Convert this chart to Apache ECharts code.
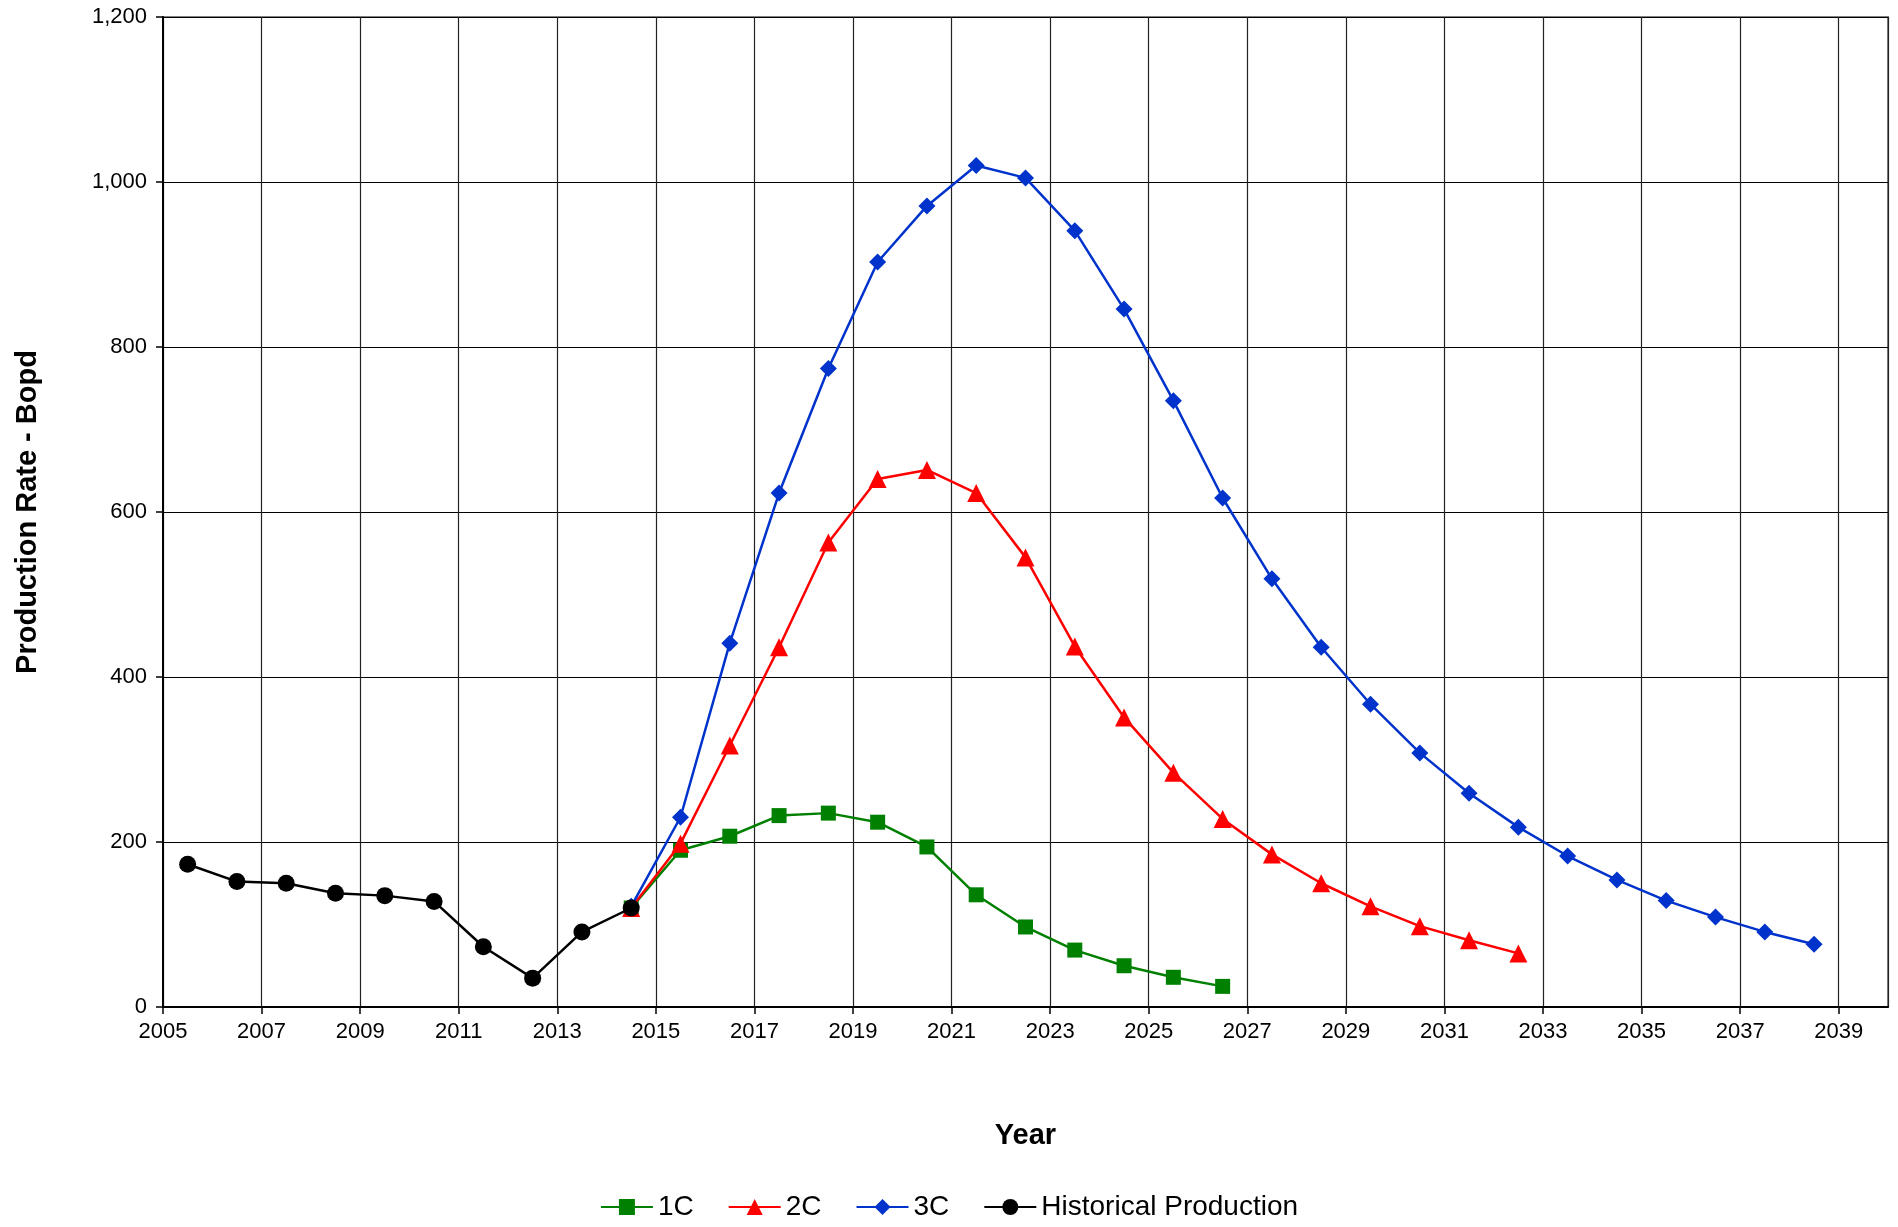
<!DOCTYPE html>
<html>
<head>
<meta charset="utf-8">
<script src="https://cdn.jsdelivr.net/npm/echarts@6/dist/echarts.min.js"></script>
<style>
html,body{margin:0;padding:0;background:#fff;}
#chart{width:1898px;height:1227px;}
</style>
</head>
<body>
<div id="chart"></div>
<script>
// Data (x = mid-year position, y = production rate Bopd)
const histYears = [2005.5, 2006.5, 2007.5, 2008.5, 2009.5, 2010.5, 2011.5, 2012.5, 2013.5, 2014.5];
const histValues = [173, 152, 150, 138, 135, 128, 73, 35, 91, 120];

const c1Years = [2014.5, 2015.5, 2016.5, 2017.5, 2018.5, 2019.5, 2020.5, 2021.5, 2022.5, 2023.5, 2024.5, 2025.5, 2026.5];
const c1Values = [120, 190, 207, 232, 235, 224, 194, 136, 97, 69, 50, 36, 25];

const c2Years = [2014.5, 2015.5, 2016.5, 2017.5, 2018.5, 2019.5, 2020.5, 2021.5, 2022.5, 2023.5, 2024.5, 2025.5, 2026.5, 2027.5, 2028.5, 2029.5, 2030.5, 2031.5, 2032.5];
const c2Values = [120, 198, 317, 436, 563, 640, 651, 623, 545, 437, 351, 284, 228, 185, 150, 122, 98, 81, 65];

const c3Years = [2014.5, 2015.5, 2016.5, 2017.5, 2018.5, 2019.5, 2020.5, 2021.5, 2022.5, 2023.5, 2024.5, 2025.5, 2026.5, 2027.5, 2028.5, 2029.5, 2030.5, 2031.5, 2032.5, 2033.5, 2034.5, 2035.5, 2036.5, 2037.5, 2038.5];
const c3Values = [122, 230, 441, 623, 774, 903, 971, 1020, 1005, 941, 846, 735, 617, 519, 436, 367, 308, 259, 218, 183, 154, 129, 109, 91, 76];

const seriesNames = ['1C', '2C', '3C', 'Historical Production'];

function pairs(xs, ys) { return xs.map((x, i) => [x, ys[i]]); }

const chart = echarts.init(document.getElementById('chart'), null, {renderer: 'canvas'});
const FONT = 'Liberation Sans, Arial, sans-serif';

function lineSeries(name, xs, ys, color, symbol, size, z) {
  return {
    name: name,
    type: 'line',
    data: pairs(xs, ys),
    symbol: symbol,
    symbolSize: size,
    showAllSymbol: true,
    z: z,
    lineStyle: {color: color, width: 2.5},
    itemStyle: {color: color},
    emphasis: {disabled: true},
    animation: false
  };
}

chart.setOption({
  animation: false,
  backgroundColor: '#fff',
  grid: {left: 163, right: 10, top: 17, bottom: 220, containLabel: false,
         outerBoundsMode: 'none',
         show: true, borderColor: '#808080', borderWidth: 2},
  legend: {
    data: seriesNames,
    bottom: 1,
    left: 'center',
    itemWidth: 52,
    itemHeight: 20,
    itemGap: 34,
    textStyle: {fontFamily: FONT, fontSize: 28, color: '#000'}
  },
  xAxis: {
    type: 'value',
    min: 2005,
    max: 2040,
    interval: 2,
    name: 'Year',
    nameLocation: 'middle',
    nameGap: 114,
    nameTextStyle: {fontFamily: FONT, fontSize: 29, fontWeight: 'bold', color: '#000'},
    axisLine: {show: true, lineStyle: {color: '#000', width: 2}},
    axisTick: {show: true, length: 7, lineStyle: {color: '#000', width: 1.5}},
    axisLabel: {
      fontFamily: FONT, fontSize: 22, color: '#000', margin: 14,
      showMaxLabel: false,
      formatter: function (v) { return v < 2040 ? String(Math.round(v)) : ''; }
    },
    splitLine: {show: true, lineStyle: {color: '#222', width: 1.2}}
  },
  yAxis: {
    type: 'value',
    min: 0,
    max: 1200,
    interval: 200,
    name: 'Production Rate - Bopd',
    nameLocation: 'middle',
    nameGap: 121,
    nameTextStyle: {fontFamily: FONT, fontSize: 29, fontWeight: 'bold', color: '#000'},
    axisLine: {show: true, lineStyle: {color: '#000', width: 2}},
    axisTick: {show: true, length: 7, lineStyle: {color: '#000', width: 1.5}},
    axisLabel: {
      fontFamily: FONT, fontSize: 22, color: '#000', margin: 16,
      formatter: function (v) { return v.toLocaleString('en-US'); }
    },
    splitLine: {show: true, lineStyle: {color: '#000', width: 1.2}}
  },
  series: [
    lineSeries(seriesNames[0], c1Years, c1Values, '#008000', 'rect', 15, 3),
    lineSeries(seriesNames[1], c2Years, c2Values, '#ff0000', 'triangle', 18, 4),
    lineSeries(seriesNames[2], c3Years, c3Values, '#0033cc', 'diamond', 17, 5),
    lineSeries(seriesNames[3], histYears, histValues, '#000000', 'circle', 17, 6)
  ]
});
</script>
</body>
</html>
